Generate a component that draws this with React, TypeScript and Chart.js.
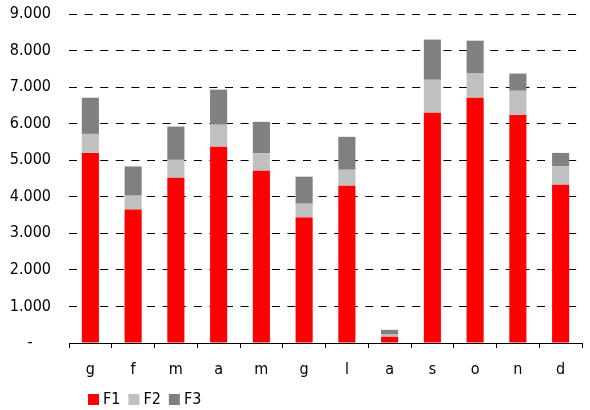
import React, { useEffect, useRef } from "react";
import { Chart, registerables } from "chart.js";

Chart.register(...registerables);

const categories = ["g", "f", "m", "a", "m", "g", "l", "a", "s", "o", "n", "d"];
const seriesNames = ["F1", "F2", "F3"];
const f1Values = [5200, 3650, 4520, 5370, 4710, 3430, 4300, 170, 6300, 6710, 6240, 4330];
const f2Values = [520, 380, 490, 600, 480, 380, 440, 60, 900, 660, 660, 500];
const f3Values = [990, 800, 910, 960, 860, 740, 900, 130, 1100, 900, 470, 370];
const yTicks = [0, 1000, 2000, 3000, 4000, 5000, 6000, 7000, 8000, 9000];

const colors = ["#FF0000", "#C0C0C0", "#808080"];
const FONT = "'DejaVu Sans Condensed', 'DejaVu Sans', sans-serif";

function fmt(v: number): string {
  if (v === 0) return "-\u2007\u2007";
  return v.toLocaleString("de-DE");
}

const legendPlugin = {
  id: "customLegend",
  afterDraw(chart: any) {
    const ctx = chart.ctx;
    ctx.save();
    ctx.font = `16px ${FONT}`;
    ctx.textBaseline = "middle";
    ctx.textAlign = "left";
    let x = 88;
    const y = 394;
    chart.data.datasets.forEach((ds: any) => {
      ctx.fillStyle = ds.backgroundColor;
      ctx.fillRect(x, y, 11, 11);
      ctx.fillStyle = "#000";
      ctx.fillText(ds.label, x + 15, y + 6);
      x += 15 + ctx.measureText(ds.label).width + 8;
    });
    ctx.restore();
  },
};

export default function App() {
  const ref = useRef<HTMLCanvasElement>(null);
  useEffect(() => {
    if (!ref.current) return;
    const seriesValues = [f1Values, f2Values, f3Values];
    const chart = new Chart(ref.current, {
      type: "bar",
      data: {
        labels: categories,
        datasets: seriesNames.map((name, i) => ({
          label: name,
          data: seriesValues[i],
          backgroundColor: colors[i],
          borderWidth: 0,
          barPercentage: 0.4,
          categoryPercentage: 1.0,
        })),
      },
      options: {
        responsive: false,
        animation: false,
        devicePixelRatio: 1,
        layout: { padding: { top: 14, right: 8, bottom: 31, left: 0 } },
        plugins: {
          legend: { display: false },
          tooltip: { enabled: false },
        },
        scales: {
          x: {
            stacked: true,
            offset: true,
            grid: {
              display: true,
              drawOnChartArea: false,
              drawTicks: true,
              tickLength: 5,
              color: "#000",
              offset: true,
            },
            border: { display: true, color: "#000", width: 1 },
            ticks: {
              color: "#000",
              font: { family: FONT, size: 16 },
              padding: 12,
              maxRotation: 0,
              autoSkip: false,
            },
            afterFit: (scale: any) => {
              scale.height = 36;
            },
          },
          y: {
            stacked: true,
            min: 0,
            max: 9000,
            afterBuildTicks: (scale: any) => {
              scale.ticks = yTicks.map((v) => ({ value: v }));
            },
            grid: {
              display: true,
              drawTicks: false,
              color: "#000",
              lineWidth: 1,
            },
            border: { display: false, dash: [8, 7.6] },
            ticks: {
              color: "#000",
              font: { family: FONT, size: 16 },
              padding: 18,
              callback: (v: any) => fmt(Number(v)),
            },
            afterFit: (scale: any) => {
              scale.width = 69;
              scale.paddingTop = 0;
              scale.paddingBottom = 0;
            },
          },
        },
      },
      plugins: [legendPlugin],
    });
    return () => chart.destroy();
  }, []);
  return (
    <div style={{ position: "absolute", left: 0, top: 0, width: 590, height: 410, background: "#fff" }}>
      <canvas ref={ref} width={590} height={410} />
    </div>
  );
}
